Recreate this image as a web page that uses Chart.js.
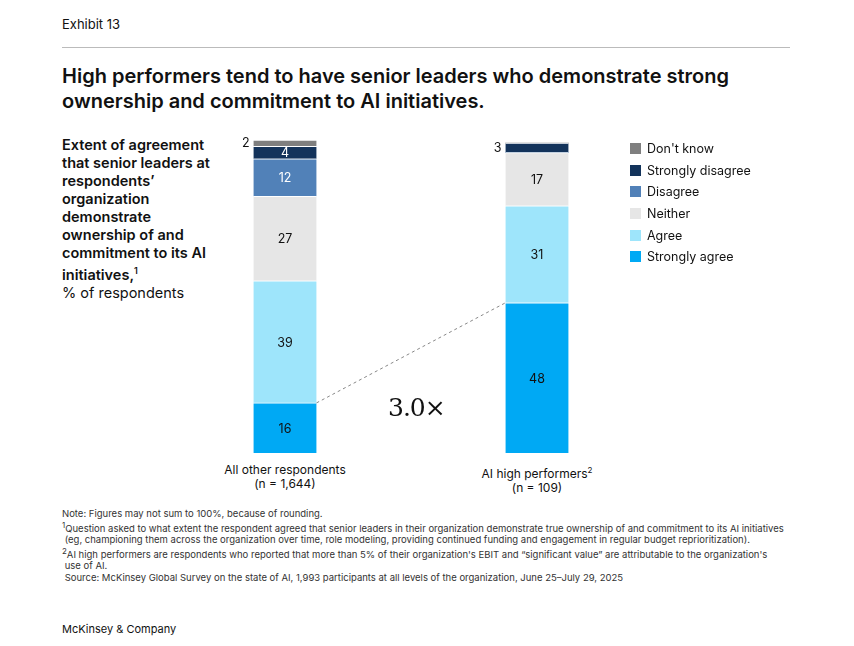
<!DOCTYPE html>
<html><head><meta charset="utf-8">
<script src="https://cdn.jsdelivr.net/npm/chart.js@4"></script>
<style>
body{margin:0;width:854px;height:646px;background:#fff;font-family:Inter,"Noto Sans",sans-serif;color:#111;position:relative;overflow:hidden}
.abs{position:absolute}
#exh{left:62px;top:16px;font-size:13px}
#rule{left:62px;top:47px;width:728px;border-top:1px solid #bbb}
#title{left:62px;top:64px;font-size:20px;font-weight:600;line-height:25px;width:720px}
#side{left:62px;top:136px;font-size:14.5px;line-height:18px;width:150px}
#side b{font-weight:600}
#wrap{left:159px;top:130px;width:504px;height:323px}
.cat{font-size:12px;text-align:center;line-height:14px;top:463px}
#mult{left:388px;top:393px;font-family:"DejaVu Serif",serif;font-size:25px;letter-spacing:-1px}
#legend{left:630px;top:138px;font-size:12.5px}
#legend div{display:flex;align-items:center;height:21.6px}
#legend span{display:inline-block;width:11px;height:11px;margin-right:6px}
#notes{left:62px;top:508px;font-size:9.5px;line-height:11.5px;color:#333;width:740px}
#mck{left:62px;top:622px;font-size:11px}
</style></head><body>
<div class="abs" id="exh">Exhibit 13</div>
<div class="abs" id="rule"></div>
<div class="abs" id="title">High performers tend to have senior leaders who demonstrate strong ownership and commitment to AI initiatives.</div>
<div class="abs" id="side"><b>Extent of agreement that senior leaders at respondents’ organization demonstrate ownership of and commitment to its AI initiatives,<sup style="font-size:9px">1</sup></b><br>% of respondents</div>
<div class="abs" id="wrap"><canvas id="c"></canvas></div>
<div class="abs cat" style="left:205px;width:160px">All other respondents<br>(n = 1,644)</div>
<div class="abs cat" style="left:457px;width:160px">AI high performers<sup style="font-size:8px">2</sup><br>(n = 109)</div>
<div class="abs" id="mult">3.0×</div>
<div class="abs" id="legend"></div>
<div class="abs" id="notes">Note: Figures may not sum to 100%, because of rounding.<br><sup>1</sup>Question asked to what extent the respondent agreed that senior leaders in their organization demonstrate true ownership of and commitment to its AI initiatives<br>&nbsp;(eg, championing them across the organization over time, role modeling, providing continued funding and engagement in regular budget reprioritization).<br><sup>2</sup>AI high performers are respondents who reported that more than 5% of their organization's EBIT and “significant value” are attributable to the organization's<br>&nbsp;use of AI.<br>&nbsp;Source: McKinsey Global Survey on the state of AI, 1,993 participants at all levels of the organization, June 25–July 29, 2025</div>
<div class="abs" id="mck">McKinsey &amp; Company</div>
<script>
const categories=['All other respondents','AI high performers'];
const seriesNames=['Strongly agree','Agree','Neither','Disagree','Strongly disagree',"Don't know"];
const stronglyAgree=[16,48];
const agree=[39,31];
const neither=[27,17];
const disagree=[12,0];
const stronglyDisagree=[4,3];
const dontKnow=[2,0];
const colors=['#00a9f4','#9ee5fb','#e6e6e6','#5181b8','#13335b','#7f7f7f'];
const textColors=['#111','#111','#111','#fff','#fff','#fff'];
const values=[stronglyAgree,agree,neither,disagree,stronglyDisagree,dontKnow];

// legend, top = Don't know
const lg=document.getElementById('legend');
for(let i=seriesNames.length-1;i>=0;i--){
  lg.innerHTML+=`<div><span style="background:${colors[i]}"></span>${seriesNames[i]}</div>`;
}

const labelPlugin={
  id:'labels',
  afterDatasetsDraw(chart){
    const ctx=chart.ctx;
    ctx.save();
    ctx.font='12.5px Inter, sans-serif';
    ctx.textBaseline='middle';
    chart.data.datasets.forEach((ds,di)=>{
      chart.getDatasetMeta(di).data.forEach((bar,i)=>{
        const v=ds.data[i];
        if(!v)return;
        const mid=(bar.y+bar.base)/2;
        if(v<=3){
          ctx.fillStyle='#111';ctx.textAlign='right';
          ctx.fillText(v,bar.x-bar.width/2-4,mid);
        }else{
          ctx.fillStyle=textColors[di];ctx.textAlign='center';
          ctx.fillText(v,bar.x,mid+1);
        }
      });
    });
    // dashed connector between strongly agree tops
    const m=chart.getDatasetMeta(0).data;
    ctx.strokeStyle='#888';ctx.setLineDash([3,3]);ctx.lineWidth=1;
    ctx.beginPath();
    ctx.moveTo(m[0].x+m[0].width/2,m[0].y);
    ctx.lineTo(m[1].x-m[1].width/2,m[1].y);
    ctx.stroke();
    ctx.restore();
  }
};

new Chart(document.getElementById('c'),{
  type:'bar',
  data:{labels:categories,datasets:values.map((d,i)=>({label:seriesNames[i],data:d,backgroundColor:colors[i],borderColor:'#fff',borderWidth:{top:1},borderSkipped:false,barThickness:63}))},
  options:{responsive:true,maintainAspectRatio:false,animation:false,
    layout:{padding:{top:10}},
    plugins:{legend:{display:false},tooltip:{enabled:false}},
    scales:{
      x:{stacked:true,display:false},
      y:{stacked:true,display:false,min:0,max:100}
    }},
  plugins:[labelPlugin]
});
</script>
</body></html>
